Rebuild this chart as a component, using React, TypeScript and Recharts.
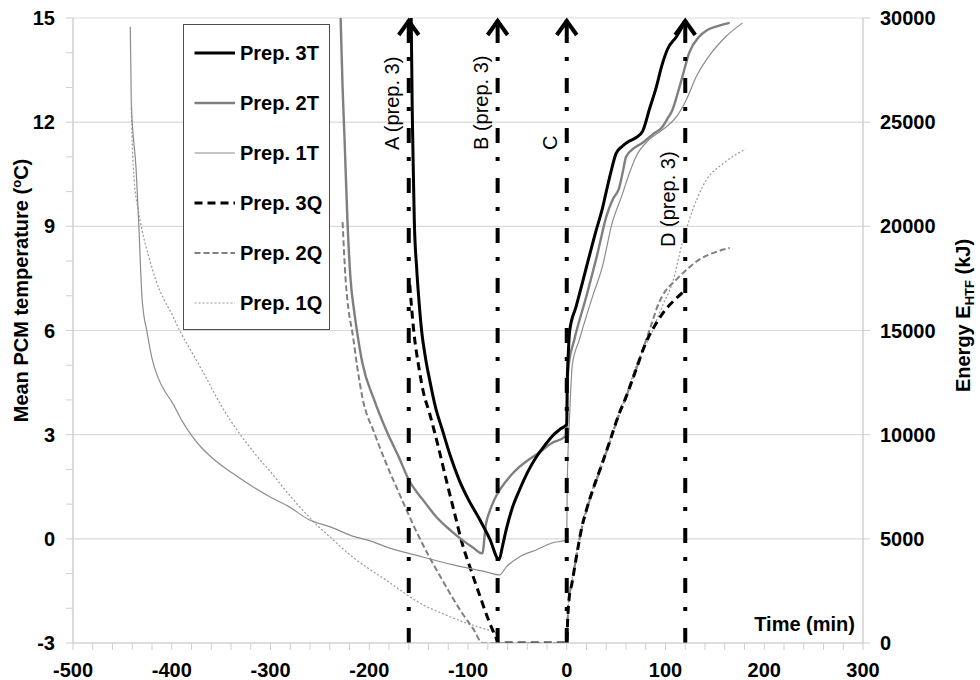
import React from "react";
import {
  CartesianGrid,
  Legend,
  Line,
  LineChart,
  ReferenceLine,
  XAxis,
  YAxis,
} from "recharts";

const FONT = '"Liberation Sans", Arial, sans-serif';
const GRID = "#d9d9d9";
const AXIS = "#cfcfcf";

// [time (min), mean PCM temperature (°C)]
const prep3T: [number, number][] = [
  [-157.5, 15], [-156.5, 12.4], [-155.5, 10.8], [-154.4, 9.2], [-152, 7.8],
  [-149.5, 6.8], [-147, 6.0], [-143, 5.2], [-139, 4.6], [-133, 3.8],
  [-126, 3.14], [-118, 2.4], [-109, 1.7], [-99, 1.1], [-89, 0.6], [-78, 0.0],
  [-68.5, -0.6], [-65, -0.2], [-61, 0.3], [-55, 0.9], [-48, 1.4], [-40, 1.9],
  [-31, 2.35], [-22, 2.7], [-15, 2.95], [-7, 3.15], [0, 3.3], [0.5, 4.5],
  [1.5, 5.3], [3, 6.0], [9.6, 6.7], [19.7, 7.8], [29.9, 8.9], [36, 9.5],
  [40, 10.0], [45, 10.6], [50, 11.1], [56, 11.3], [63, 11.45], [70, 11.55],
  [77, 11.75], [84, 12.4], [90.6, 13.0], [96, 13.6], [102, 14.1], [111, 14.46],
  [116, 14.7], [119, 14.9],
];

const prep2T: [number, number][] = [
  [-229, 15], [-227, 13], [-225, 11.5], [-222, 9.1], [-219, 7.5], [-215, 6.5],
  [-212, 5.9], [-207, 5.07], [-195, 4.0], [-183, 3.14], [-170, 2.35],
  [-160, 1.7], [-145, 1.1], [-132, 0.63], [-118, 0.25], [-106, -0.03],
  [-95, -0.25], [-85.5, -0.42], [-82, 0.4], [-78, 0.8], [-73, 1.15],
  [-68, 1.4], [-58, 1.78], [-48, 2.07], [-40, 2.25], [-31, 2.42], [-15, 2.76],
  [-2, 2.94], [0, 3.0], [0.5, 4.3], [2, 5.0], [7.6, 5.73], [19.7, 6.97],
  [31, 8.2], [40, 9.27], [47, 9.8], [53, 10.1], [57, 10.6], [60, 11.0],
  [68, 11.25], [76.5, 11.4], [87, 11.65], [97, 11.87], [102, 12.1],
  [107, 12.35], [112, 12.8], [117, 13.3], [124, 14.0], [134, 14.46],
  [142, 14.65], [151, 14.75], [165, 14.86],
];

const prep1T: [number, number][] = [
  [-442, 14.75], [-441, 12.6], [-436, 10.6], [-433, 8.8], [-430, 6.9],
  [-425, 5.95], [-420, 5.2], [-414, 4.65], [-407, 4.25], [-400, 3.95],
  [-390, 3.42], [-380, 2.98], [-370, 2.63], [-359, 2.33], [-339, 1.9],
  [-318, 1.5], [-300, 1.2], [-281, 0.92], [-261, 0.55], [-240, 0.35],
  [-217, 0.08], [-200, -0.05], [-183, -0.23], [-149, -0.5], [-115, -0.75],
  [-82, -0.95], [-68, -1.04], [-61, -0.8], [-48, -0.52], [-31, -0.32],
  [-15, -0.12], [0, -0.03], [0.5, 1.6], [3, 3.6], [5.6, 5.0], [12.7, 5.73],
  [26, 6.97], [36, 7.83], [46, 9.1], [56, 9.9], [63, 10.5], [70, 11.0],
  [83.5, 11.5], [97, 11.78], [111, 12.15], [121, 12.64], [131, 13.3],
  [144, 13.9], [161, 14.46], [178, 14.86],
];

// [time (min), energy E_HTF (kJ)]
const prep3Q: [number, number][] = [
  [-159, 17200], [-155, 15000], [-150, 13300], [-145, 12000], [-139, 11040],
  [-130, 9400], [-122, 7824], [-114, 6300], [-106, 4800], [-97, 3500],
  [-89, 2400], [-80, 1200], [-72, 300], [-69, 0], [0, 0], [1, 1200],
  [2.5, 2200], [5, 2800], [10, 4200], [15, 5500], [20, 6400], [26, 7300],
  [35, 8500], [43, 9600], [53, 11000], [60, 11800], [70, 13100], [80, 14400],
  [90, 15300], [100, 16000], [110, 16500], [119, 16900],
];

const prep2Q: [number, number][] = [
  [-227, 20200], [-224, 17500], [-221, 16000], [-217, 14880], [-212, 13200],
  [-207, 11800], [-195, 10100], [-183, 8640], [-168, 7000], [-153, 5424],
  [-140, 4200], [-126, 3024], [-116, 2200], [-106, 1440], [-95, 700],
  [-85, 0], [0, 0], [1, 1200], [2.5, 2200], [5, 2800], [10, 4200],
  [15, 5450], [20, 6350], [26, 7250], [35, 8450], [43, 9550], [53, 10950],
  [60, 11800], [70, 13100], [80, 14500], [85, 15200], [94, 16400],
  [100, 16900], [110, 17400], [121, 17900], [134, 18400], [151, 18770],
  [165, 18960],
];

const prep1Q: [number, number][] = [
  [-441, 25700], [-440, 24000], [-438, 22200], [-434, 20800], [-430, 19800],
  [-423, 18500], [-416, 17400], [-408, 16500], [-400, 15800], [-392, 15000],
  [-379, 13900], [-366, 12800], [-350, 11400], [-332, 10100], [-316, 9100],
  [-299, 8160], [-280, 7050], [-261, 6050], [-251, 5570], [-240, 5100],
  [-217, 4130], [-200, 3550], [-183, 3020], [-166, 2450], [-149, 1920],
  [-125, 1400], [-102, 960], [-85, 700], [-72, 480], [-68, 0], [0, 0],
  [1, 1300], [2.5, 2300], [5, 2950], [10, 4400], [15, 5600], [20, 6500],
  [26, 7400], [35, 8600], [43, 9700], [53, 11100], [60, 11900], [70, 13300],
  [87, 15000], [97, 16200], [107, 17280], [117, 19200], [124, 20300],
  [141, 22200], [158, 23000], [181, 23700],
];

const xMajorTicks = [-500, -400, -300, -200, -100, 0, 100, 200, 300];
const xMinorTicks = Array.from({ length: 41 }, (_, i) => -500 + i * 20);
const tempMinorTicks = Array.from({ length: 19 }, (_, i) => -3 + i);
const energyTicks = [0, 5000, 10000, 15000, 20000, 25000, 30000];

const markerTimes = [-160, -70, 0, 120];
const markerLabels = ["A (prep. 3)", "B (prep. 3)", "C", "D (prep. 3)"];

type Series = {
  name: string;
  points: [number, number][];
  axis: "t" | "e";
  color: string;
  width: number;
  dash?: string;
};

const series: Series[] = [
  { name: "Prep. 3T", points: prep3T, axis: "t", color: "#000000", width: 3 },
  { name: "Prep. 2T", points: prep2T, axis: "t", color: "#7f7f7f", width: 2.4 },
  { name: "Prep. 1T", points: prep1T, axis: "t", color: "#8c8c8c", width: 1.2 },
  { name: "Prep. 3Q", points: prep3Q, axis: "e", color: "#000000", width: 3, dash: "8 5" },
  { name: "Prep. 2Q", points: prep2Q, axis: "e", color: "#808080", width: 2, dash: "6 3" },
  { name: "Prep. 1Q", points: prep1Q, axis: "e", color: "#999999", width: 1.2, dash: "2 2" },
];

// bold tick text; `every` hides the minor ticks' labels but keeps their marks
function makeTick(dy: string, every?: number) {
  return (p: any) => {
    const v = p.payload?.value;
    if (every && v % every !== 0) return <g />;
    return (
      <text
        x={p.x}
        y={p.y}
        dy={dy}
        textAnchor={p.textAnchor}
        fontFamily={FONT}
        fontWeight="bold"
        fontSize={20}
        fill="#000"
      >
        {v}
      </text>
    );
  };
}

function ArrowShape(props: any) {
  const { x1, y1, y2 } = props;
  const top = Math.min(y1, y2);
  const bottom = Math.max(y1, y2);
  return (
    <g>
      <line x1={x1} x2={x1} y1={top + 2} y2={top + 25} stroke="#000" strokeWidth={4} />
      <line
        x1={x1}
        x2={x1}
        y1={top + 25}
        y2={bottom}
        stroke="#000"
        strokeWidth={4}
        strokeDasharray="15 14 4 17"
        strokeDashoffset={15}
      />
      <polyline
        points={`${x1 - 10},${top + 17} ${x1},${top + 3} ${x1 + 10},${top + 17}`}
        fill="none"
        stroke="#000"
        strokeWidth={4}
      />
    </g>
  );
}

function markerLabel(text: string, drop: number) {
  return (p: any) => {
    const vb = p.viewBox || {};
    const x = vb.x - 10;
    const y = vb.y + drop;
    return (
      <text
        x={x}
        y={y}
        transform={`rotate(-90 ${x} ${y})`}
        fontFamily={FONT}
        fontSize={20}
        fill="#000"
      >
        {text}
      </text>
    );
  };
}

function LegendBox() {
  return (
    <div
      style={{
        width: 147,
        height: 306,
        boxSizing: "border-box",
        border: "1.5px solid #4d4d4d",
        background: "#fff",
        paddingTop: 3,
        fontFamily: FONT,
        fontWeight: "bold",
        fontSize: 20,
        color: "#000",
      }}
    >
      {series.map((s) => (
        <div key={s.name} style={{ display: "flex", alignItems: "center", height: 50 }}>
          <svg width={55} height={10} style={{ flex: "none" }}>
            <line
              x1={10.5}
              x2={51}
              y1={5}
              y2={5}
              stroke={s.color}
              strokeWidth={s.width}
              strokeDasharray={s.dash}
            />
          </svg>
          <span style={{ marginLeft: 1, whiteSpace: "nowrap" }}>{s.name}</span>
        </div>
      ))}
    </div>
  );
}

export default function App() {
  return (
    <div style={{ position: "absolute", left: 0, top: 0, width: 980, height: 680, background: "#fff" }}>
      <LineChart width={980} height={680} margin={{ top: 18, right: 0, bottom: 0, left: 0 }}>
        {/* hidden axis that only feeds the vertical grid lines */}
        <XAxis xAxisId="g" orientation="top" type="number" domain={[-500, 300]} ticks={xMajorTicks} hide />
        <CartesianGrid xAxisId="g" yAxisId="e" stroke={GRID} strokeWidth={1.2} />
        <XAxis
          xAxisId="x"
          type="number"
          dataKey="x"
          domain={[-500, 300]}
          ticks={xMinorTicks}
          interval={0}
          allowDataOverflow
          tick={makeTick("0.71em", 100)}
          tickSize={7}
          tickMargin={13}
          tickLine={{ stroke: AXIS }}
          axisLine={{ stroke: AXIS }}
          height={37}
          label={{
            content: (p: any) => {
              const vb = p.viewBox || {};
              return (
                <text
                  x={vb.x + vb.width - 8}
                  y={vb.y - 12}
                  textAnchor="end"
                  fontFamily={FONT}
                  fontWeight="bold"
                  fontSize={20}
                  fill="#000"
                >
                  Time (min)
                </text>
              );
            },
          }}
        />
        <YAxis
          yAxisId="t"
          orientation="left"
          type="number"
          domain={[-3, 15]}
          ticks={tempMinorTicks}
          interval={0}
          allowDataOverflow
          tick={makeTick("0.355em", 3)}
          tickSize={7}
          tickMargin={11}
          tickLine={{ stroke: AXIS }}
          axisLine={{ stroke: AXIS }}
          width={73}
          label={{
            content: (p: any) => {
              const vb = p.viewBox || {};
              const x = 28;
              const y = vb.y + vb.height / 2 - 40;
              return (
                <text
                  x={x}
                  y={y}
                  transform={`rotate(-90 ${x} ${y})`}
                  textAnchor="middle"
                  fontFamily={FONT}
                  fontWeight="bold"
                  fontSize={20}
                  fill="#000"
                >
                  Mean PCM temperature (
                  <tspan fontSize={13} dy={-7}>o</tspan>
                  <tspan dy={7}>C)</tspan>
                </text>
              );
            },
          }}
        />
        <YAxis
          yAxisId="e"
          orientation="right"
          type="number"
          domain={[0, 30000]}
          ticks={energyTicks}
          interval={0}
          allowDataOverflow
          tick={makeTick("0.355em")}
          tickSize={7}
          tickMargin={10}
          tickLine={{ stroke: AXIS }}
          axisLine={{ stroke: AXIS }}
          width={117}
          label={{
            content: (p: any) => {
              const vb = p.viewBox || {};
              const x = 970;
              const y = vb.y + vb.height / 2 - 15;
              return (
                <text
                  x={x}
                  y={y}
                  transform={`rotate(-90 ${x} ${y})`}
                  textAnchor="middle"
                  fontFamily={FONT}
                  fontWeight="bold"
                  fontSize={20}
                  fill="#000"
                >
                  Energy E
                  <tspan fontSize={13} dy={4}>HTF</tspan>
                  <tspan dy={-4}> (kJ)</tspan>
                </text>
              );
            },
          }}
        />

        {series
          .slice()
          .reverse()
          .map((s) => (
            <Line
              key={s.name}
              name={s.name}
              xAxisId="x"
              yAxisId={s.axis}
              data={s.points.map(([x, y]) => ({ x, y }))}
              dataKey="y"
              type="monotone"
              stroke={s.color}
              strokeWidth={s.width}
              strokeDasharray={s.dash}
              dot={false}
              activeDot={false}
              isAnimationActive={false}
            />
          ))}

        {markerTimes.map((t, i) => (
          <ReferenceLine
            key={t}
            xAxisId="x"
            yAxisId="t"
            x={t}
            shape={ArrowShape}
            label={{ content: markerLabel(markerLabels[i], i === 3 ? 229 : 132) }}
          />
        ))}

        <Legend
          layout="vertical"
          align="center"
          verticalAlign="middle"
          content={<LegendBox />}
          wrapperStyle={{ left: 183, top: 24, width: 147, height: 306 }}
        />
      </LineChart>
    </div>
  );
}
